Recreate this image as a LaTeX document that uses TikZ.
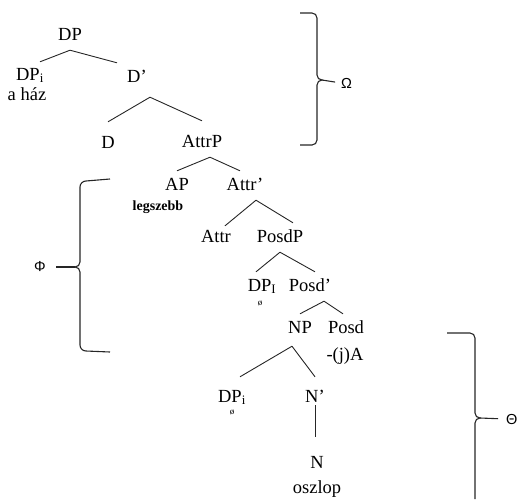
\documentclass[tikz,border=0pt]{standalone}
\usepackage{fontspec}
\setmainfont{Liberation Serif}
\newfontfamily\greekfont{Liberation Sans}
\usetikzlibrary{calc}

\begin{document}
\begin{tikzpicture}[
  x=1pt, y=-1pt,
  cat/.style={anchor=base, font=\fontsize{18.5}{20}\selectfont, text height=13pt, text depth=4pt, inner xsep=2pt, inner ysep=6pt},
  word/.style={anchor=base, font=\fontsize{18.5}{20}\selectfont, inner sep=0pt},
  lex/.style={anchor=base, font=\fontsize{14}{16}\selectfont\bfseries, inner sep=0pt},
  gap/.style={anchor=base, font=\fontsize{9}{10}\selectfont, inner sep=0pt},
  greek/.style={font=\greekfont\fontsize{14.5}{16}\selectfont, inner sep=0pt},
  branch/.style={line width=0.9pt, black!85},
  brace/.style={line width=1.1pt, black!85}
]
\useasboundingbox (0,0) rectangle (521,499);

% categories and words
\node[cat] (dp) at (70,40) {DP};
\node[cat, text depth=2pt] (dpi) at (30,80) {DP\textsubscript{i}};
\node[word] (haz) at (27,100) {a ház};
\node[cat] (dbar) at (137,82) {D’};
\node[cat] (d) at (108,148) {D};
\node[cat] (attrp) at (202,147) {AttrP};
\node[cat] (ap) at (177,190) {AP};
\node[lex] (szebb) at (158,210) {legszebb};
\node[cat] (attrbar) at (245,190) {Attr’};
\node[cat] (attr) at (216,242) {Attr};
\node[cat] (posdp) at (280,242) {PosdP};
\node[cat] (dpI) at (262,291) {DP\textsubscript{I}};
\node[gap] (gapa) at (260,305) {ø};
\node[cat] (posdbar) at (310,291) {Posd’};
\node[cat] (np) at (300,333) {NP};
\node[cat] (posd) at (346,333) {Posd};
\node[word] (suffix) at (345,360) {-(j)A};
\node[cat] (dpii) at (232,402) {DP\textsubscript{i}};
\node[gap] (gapb) at (232,414) {ø};
\node[cat] (nbar) at (315,402) {N’};
\node[cat] (n) at (317,468) {N};
\node[word] (oszlop) at (317,493) {oszlop};

% branches
\draw[branch] (dp.south) -- ([xshift=10pt,yshift=-1pt]dpi.north);
\draw[branch] (dp.south) -- ([xshift=-20pt]dbar.north);
\draw[branch] ([xshift=13pt,yshift=-5pt]dbar.south) -- ([yshift=7pt]d.north);
\draw[branch] ([xshift=13pt,yshift=-5pt]dbar.south) -- ([yshift=7pt]attrp.north);
\draw[branch] ([xshift=8pt]attrp.south) -- (ap.north);
\draw[branch] ([xshift=8pt]attrp.south) -- ([xshift=-5pt]attrbar.north);
\draw[branch] ([xshift=11pt]attrbar.south) -- ([xshift=9pt,yshift=-3pt]attr.north);
\draw[branch] ([xshift=11pt]attrbar.south) -- ([xshift=13pt]posdp.north);
\draw[branch] (posdp.south) -- ([xshift=-6pt]dpI.north);
\draw[branch] (posdp.south) -- ([xshift=5pt]posdbar.north);
\draw[branch] ([xshift=14pt]posdbar.south) -- (np.north);
\draw[branch] ([xshift=14pt]posdbar.south) -- ([xshift=-3pt]posd.north);
\draw[branch] ([xshift=-8pt,yshift=-3pt]np.south) -- ([xshift=8pt,yshift=6pt]dpii.north);
\draw[branch] ([xshift=-8pt,yshift=-3pt]np.south) -- ([yshift=6pt]nbar.north);
\draw[branch] ([yshift=7pt]nbar.south) -- ([xshift=-2pt,yshift=12pt]n.north);

% braces
\node[greek, anchor=west] (omega) at (341,83) {Ω};
\node[greek] (phi) at (40,267) {Φ};
\node[greek, anchor=west] (theta) at (506,419) {Θ};
\coordinate (omegatip) at (322,80);
\coordinate (phitip) at (75,267);
\coordinate (thetatip) at (480,418);

\draw[brace] (300,13) -- (312,13) to[out=0,in=90] (317,18) -- (317,75)
  to[out=-90,in=180] (omegatip) to[out=180,in=90] (317,85) -- (317,140)
  to[out=-90,in=0] (312,145) -- (300,145);
\draw[brace, shorten >=6pt] (omegatip) -- (omega.west);

\draw[brace] (110,179) -- (86,181) to[out=180,in=90] (80,187) -- (80,262)
  to[out=-90,in=0] (phitip) to[out=0,in=90] (80,272) -- (80,345)
  to[out=-90,in=180] (86,351) -- (110,352);
\draw[brace, shorten >=10pt] (phitip) -- (phi.east);

\draw[brace] (447,333) -- (470,333) to[out=0,in=90] (475,338) -- (475,413)
  to[out=-90,in=180] (thetatip) to[out=180,in=90] (475,423) -- (475,499);
\draw[brace, shorten >=8pt] (thetatip) -- (theta.west);
\end{tikzpicture}
\end{document}
